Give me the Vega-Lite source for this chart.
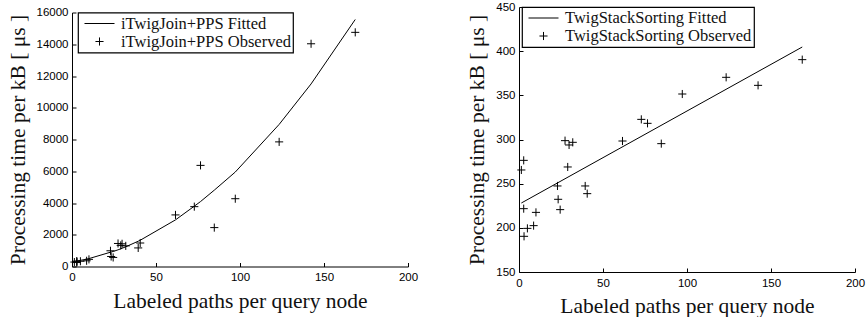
{
  "$schema": "https://vega.github.io/schema/vega-lite/v6.json",
  "background": "white",
  "padding": {"left": 7, "top": 1, "right": 2, "bottom": 0},
  "center": true,
  "spacing": 48,
  "datasets": {
    "itjObs": [
      {"x": 1.4, "y": 280, "series": "iTwigJoin+PPS Observed"},
      {"x": 2.8, "y": 250, "series": "iTwigJoin+PPS Observed"},
      {"x": 2.8, "y": 340, "series": "iTwigJoin+PPS Observed"},
      {"x": 3.0, "y": 300, "series": "iTwigJoin+PPS Observed"},
      {"x": 5.0, "y": 330, "series": "iTwigJoin+PPS Observed"},
      {"x": 8.7, "y": 360, "series": "iTwigJoin+PPS Observed"},
      {"x": 10.1, "y": 450, "series": "iTwigJoin+PPS Observed"},
      {"x": 22.9, "y": 990, "series": "iTwigJoin+PPS Observed"},
      {"x": 23.3, "y": 630, "series": "iTwigJoin+PPS Observed"},
      {"x": 24.5, "y": 570, "series": "iTwigJoin+PPS Observed"},
      {"x": 27.4, "y": 1450, "series": "iTwigJoin+PPS Observed"},
      {"x": 29.0, "y": 1330, "series": "iTwigJoin+PPS Observed"},
      {"x": 29.8, "y": 1430, "series": "iTwigJoin+PPS Observed"},
      {"x": 32.0, "y": 1300, "series": "iTwigJoin+PPS Observed"},
      {"x": 39.4, "y": 1170, "series": "iTwigJoin+PPS Observed"},
      {"x": 40.6, "y": 1480, "series": "iTwigJoin+PPS Observed"},
      {"x": 61.6, "y": 3250, "series": "iTwigJoin+PPS Observed"},
      {"x": 72.8, "y": 3770, "series": "iTwigJoin+PPS Observed"},
      {"x": 76.5, "y": 6370, "series": "iTwigJoin+PPS Observed"},
      {"x": 84.7, "y": 2450, "series": "iTwigJoin+PPS Observed"},
      {"x": 97.2, "y": 4270, "series": "iTwigJoin+PPS Observed"},
      {"x": 123.3, "y": 7850, "series": "iTwigJoin+PPS Observed"},
      {"x": 142.3, "y": 14030, "series": "iTwigJoin+PPS Observed"},
      {"x": 168.6, "y": 14750, "series": "iTwigJoin+PPS Observed"}
    ],
    "itjFit": [
      {"x": 1.4, "y": 322}, {"x": 2.8, "y": 346}, {"x": 3.0, "y": 349},
      {"x": 5.0, "y": 386}, {"x": 8.7, "y": 464}, {"x": 10.1, "y": 498},
      {"x": 22.9, "y": 900}, {"x": 23.3, "y": 915}, {"x": 24.5, "y": 945},
      {"x": 27.4, "y": 1050}, {"x": 29.0, "y": 1115}, {"x": 29.8, "y": 1148},
      {"x": 32.0, "y": 1242}, {"x": 39.4, "y": 1592}, {"x": 40.6, "y": 1653},
      {"x": 61.6, "y": 2937}, {"x": 72.8, "y": 3800}, {"x": 76.5, "y": 4090},
      {"x": 84.7, "y": 4809}, {"x": 97.2, "y": 5950}, {"x": 123.3, "y": 8950},
      {"x": 142.3, "y": 11500}, {"x": 168.6, "y": 15560}
    ],
    "tssObs": [
      {"x": 1.4, "y": 265.5, "series": "TwigStackSorting Observed"},
      {"x": 2.8, "y": 276.4, "series": "TwigStackSorting Observed"},
      {"x": 2.8, "y": 221.7, "series": "TwigStackSorting Observed"},
      {"x": 3.0, "y": 190.4, "series": "TwigStackSorting Observed"},
      {"x": 5.0, "y": 199.4, "series": "TwigStackSorting Observed"},
      {"x": 8.7, "y": 202.5, "series": "TwigStackSorting Observed"},
      {"x": 10.1, "y": 217.5, "series": "TwigStackSorting Observed"},
      {"x": 22.9, "y": 247.4, "series": "TwigStackSorting Observed"},
      {"x": 23.3, "y": 232.3, "series": "TwigStackSorting Observed"},
      {"x": 24.5, "y": 220.6, "series": "TwigStackSorting Observed"},
      {"x": 27.4, "y": 298.7, "series": "TwigStackSorting Observed"},
      {"x": 29.0, "y": 268.9, "series": "TwigStackSorting Observed"},
      {"x": 29.8, "y": 293.8, "series": "TwigStackSorting Observed"},
      {"x": 32.0, "y": 296.8, "series": "TwigStackSorting Observed"},
      {"x": 39.4, "y": 247.4, "series": "TwigStackSorting Observed"},
      {"x": 40.6, "y": 238.7, "series": "TwigStackSorting Observed"},
      {"x": 61.6, "y": 298.3, "series": "TwigStackSorting Observed"},
      {"x": 72.8, "y": 322.8, "series": "TwigStackSorting Observed"},
      {"x": 76.5, "y": 318.3, "series": "TwigStackSorting Observed"},
      {"x": 84.7, "y": 295.3, "series": "TwigStackSorting Observed"},
      {"x": 97.2, "y": 351.5, "series": "TwigStackSorting Observed"},
      {"x": 123.3, "y": 370.4, "series": "TwigStackSorting Observed"},
      {"x": 142.3, "y": 361.3, "series": "TwigStackSorting Observed"},
      {"x": 168.6, "y": 390.4, "series": "TwigStackSorting Observed"}
    ],
    "tssFit": [
      {"x": 1.4, "y": 228.1},
      {"x": 168.6, "y": 404.7}
    ]
  },
  "config": {
    "view": {"stroke": null},
    "axis": {
      "grid": false,
      "domainColor": "black",
      "domainWidth": 1,
      "tickColor": "black",
      "tickSize": -4,
      "tickCount": 12,
      "labelOverlap": false,
      "labelFlush": false,
      "labelFont": "Liberation Sans",
      "labelFontSize": 11.5,
      "labelColor": "black",
      "titleFont": "Liberation Serif",
      "titleFontSize": 21.5,
      "titleFontWeight": "normal",
      "titleColor": "#111"
    },
    "axisX": {"labelPadding": 9, "titlePadding": 7},
    "axisY": {"labelPadding": 8, "titlePadding": 7},
    "legend": {
      "orient": "none",
      "title": null,
      "strokeColor": "black",
      "strokeWidth": 1.2,
      "fillColor": "white",
      "padding": 2,
      "clipHeight": 18,
      "labelFont": "Liberation Serif",
      "labelFontSize": 16.5,
      "labelColor": "#111",
      "symbolOffset": 4,
      "labelOffset": 6,
      "labelLimit": 0,
      "symbolSize": 900,
      "symbolStrokeColor": "black",
      "symbolFillColor": "transparent",
      "symbolStrokeWidth": 1,
      "rowPadding": 0
    }
  },
  "hconcat": [
    {
      "width": 336,
      "height": 254,
      "layer": [
        {
          "data": {"name": "itjFit"},
          "mark": {"type": "line", "color": "black", "strokeWidth": 1},
          "encoding": {
            "x": {"field": "x", "type": "quantitative", "scale": {"domain": [0, 200], "nice": false, "zero": false}, "axis": {"values": [0, 50, 100, 150, 200], "tickCount": 12, "labelOverlap": false, "title": "Labeled paths per query node"}},
            "y": {"field": "y", "type": "quantitative", "scale": {"domain": [0, 16000], "nice": false, "zero": false}, "axis": {"values": [0, 2000, 4000, 6000, 8000, 10000, 12000, 14000, 16000], "tickCount": 12, "labelOverlap": false, "format": "d", "title": "Processing time per kB [ μs ]"}}
          }
        },
        {
          "data": {"name": "itjObs"},
          "mark": {"type": "point", "filled": false, "color": "black", "strokeWidth": 1, "size": 900, "opacity": 1},
          "encoding": {
            "x": {"field": "x", "type": "quantitative"},
            "y": {"field": "y", "type": "quantitative"},
            "shape": {
              "field": "series", "type": "nominal",
              "scale": {"domain": ["iTwigJoin+PPS Fitted", "iTwigJoin+PPS Observed"], "range": ["M-1,0H1", "M-0.27,0H0.27M0,-0.27V0.27"]},
              "legend": {"legendX": 6, "legendY": 0}
            }
          }
        }
      ]
    },
    {
      "width": 336,
      "height": 265,
      "layer": [
        {
          "data": {"name": "tssFit"},
          "mark": {"type": "line", "color": "black", "strokeWidth": 1},
          "encoding": {
            "x": {"field": "x", "type": "quantitative", "scale": {"domain": [0, 200], "nice": false, "zero": false}, "axis": {"values": [0, 50, 100, 150, 200], "tickCount": 12, "labelOverlap": false, "title": "Labeled paths per query node"}},
            "y": {"field": "y", "type": "quantitative", "scale": {"domain": [150, 450], "nice": false, "zero": false}, "axis": {"values": [150, 200, 250, 300, 350, 400, 450], "tickCount": 12, "labelOverlap": false, "format": "d", "title": "Processing time per kB [ μs ]"}}
          }
        },
        {
          "data": {"name": "tssObs"},
          "mark": {"type": "point", "filled": false, "color": "black", "strokeWidth": 1, "size": 900, "opacity": 1},
          "encoding": {
            "x": {"field": "x", "type": "quantitative"},
            "y": {"field": "y", "type": "quantitative"},
            "shape": {
              "field": "series", "type": "nominal",
              "scale": {"domain": ["TwigStackSorting Fitted", "TwigStackSorting Observed"], "range": ["M-1,0H1", "M-0.27,0H0.27M0,-0.27V0.27"]},
              "legend": {"legendX": 3, "legendY": 0}
            }
          }
        }
      ]
    }
  ],
  "resolve": {"scale": {"shape": "independent"}}
}
